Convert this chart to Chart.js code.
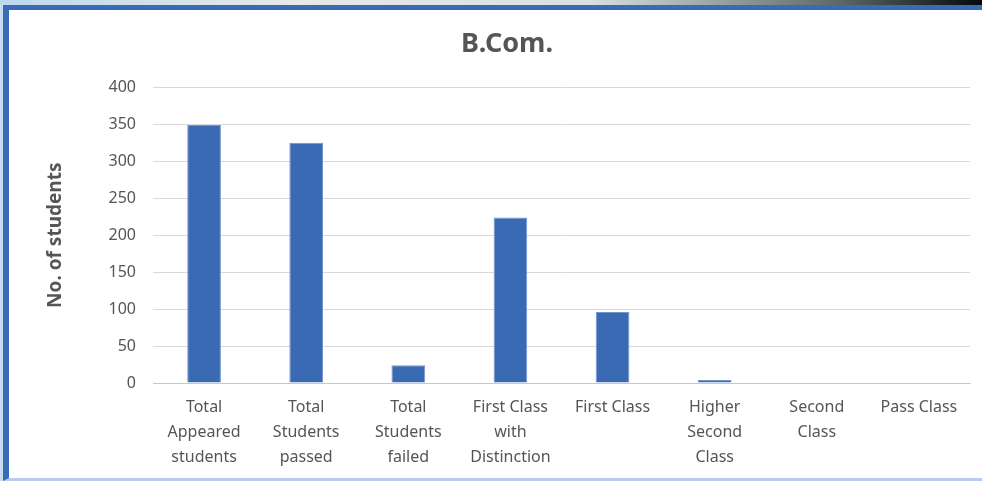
<!DOCTYPE html>
<html>
<head>
<meta charset="utf-8">
<script src="https://cdn.jsdelivr.net/npm/chart.js"></script>
<style>
  body { margin: 0; width: 982px; height: 481px; overflow: hidden; position: relative; background: #c9ddef; }
  #strip { position: absolute; left: 0; top: 0; width: 982px; height: 5px;
    background: linear-gradient(to right, #bcd9ee, #e6e9e6 30%, #d8e0e2 60%, #5e6b69 85%, #050a0c); }
  #frame { position: absolute; left: 3px; top: 5px; right: 0; bottom: 0; background: #fff;
    border-left: 6px solid #3a6bb7; border-top: 5px solid #3a6bb7; border-bottom: 3px solid #b4cdee; }
  #wrap { position: absolute; left: 0; top: 0; width: 982px; height: 481px; }
</style>
</head>
<body>
<div id="strip"></div>
<div id="frame"></div>
<div id="wrap"><canvas id="chartCanvas"></canvas></div>
<script>
// values
const categories = [
  ['Total', 'Appeared', 'students'],
  ['Total', 'Students', 'passed'],
  ['Total', 'Students', 'failed'],
  ['First Class', 'with', 'Distinction'],
  ['First Class'],
  ['Higher', 'Second', 'Class'],
  ['Second', 'Class'],
  ['Pass Class']
];
const students = [349, 325, 24, 224, 96, 4, 0, 0];
const yTicks = [0, 50, 100, 150, 200, 250, 300, 350, 400];

const textColor = '#555555';
const fontFamily = "'Noto Sans', 'DejaVu Sans', sans-serif";

const ctx = document.getElementById('chartCanvas').getContext('2d');
new Chart(ctx, {
  type: 'bar',
  data: {
    labels: categories,
    datasets: [{
      label: 'No. of students',
      data: students,
      backgroundColor: '#3a6ab3',
      borderColor: '#6f96cf',
      borderWidth: 1,
      barPercentage: 0.33,
      categoryPercentage: 1
    }]
  },
  options: {
    responsive: true,
    maintainAspectRatio: false,
    animation: false,
    layout: { padding: { left: 44, right: 12, top: 0, bottom: 0 } },
    plugins: {
      legend: { display: false },
      tooltip: { enabled: false },
      title: {
        display: true,
        text: 'B.Com.',
        color: textColor,
        font: { family: fontFamily, size: 27, weight: 'bold' },
        padding: { top: 28, bottom: 27 }
      }
    },
    scales: {
      x: {
        grid: { display: false, drawTicks: false },
        border: { color: '#c8c8c8' },
        ticks: {
          color: textColor,
          font: { family: fontFamily, size: 16, lineHeight: 1.55 },
          padding: 12,
          maxRotation: 0,
          autoSkip: false
        },
        afterFit: (s) => { s.height = 98; }
      },
      y: {
        min: 0,
        max: 400,
        afterBuildTicks: (s) => { s.ticks = yTicks.map(v => ({ value: v })); },
        grid: { color: '#d9d9d9', drawTicks: false },
        border: { display: false },
        ticks: {
          color: textColor,
          font: { family: fontFamily, size: 16 },
          padding: 17
        },
        title: {
          display: true,
          text: 'No. of students',
          color: textColor,
          font: { family: fontFamily, size: 19, weight: 'bold' },
          padding: 0
        },
        afterFit: (s) => { s.width = 109; }
      }
    }
  }
});
</script>
</body>
</html>
